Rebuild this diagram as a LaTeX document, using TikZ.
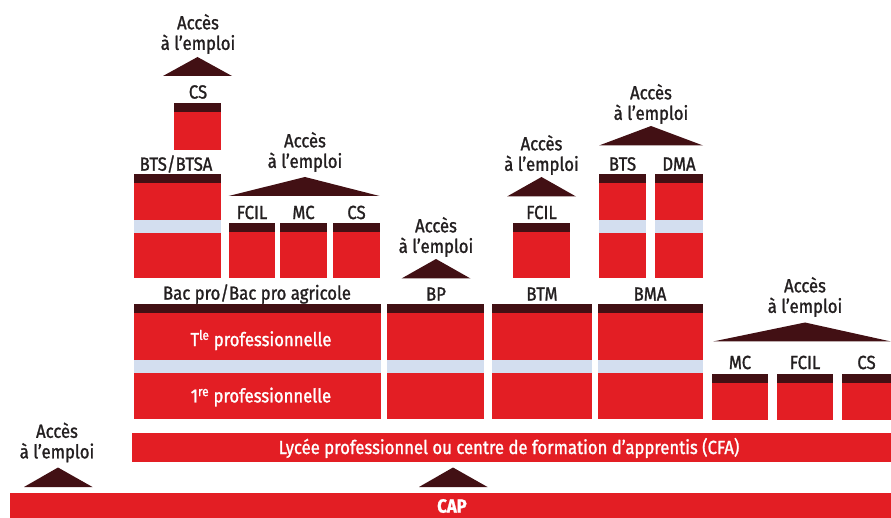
\documentclass[tikz,border=0pt]{standalone}
\usepackage{fontspec}
\setmainfont{Fira Sans}[FakeStretch=0.88, FakeBold=1.3]
\definecolor{rd}{HTML}{E31E24}
\definecolor{dk}{HTML}{421014}
\definecolor{lb}{HTML}{D3DEEF}
\definecolor{txt}{HTML}{231F20}
\tikzset{
  lbl/.style={text=txt, font=\fontsize{19}{20.5}\selectfont, inner sep=0pt, align=center},
  wlbl/.style={text=white, font=\fontsize{19}{20.5}\selectfont, inner sep=0pt, align=center},
  band/.style={fill=dk},
  body/.style={fill=rd},
  gap/.style={fill=lb},
  tri/.style={fill=dk}
}
% single box: x1 x2 ytop ybottom
\newcommand\myonebox[4]{%
  \fill[band] (#1,#3) rectangle (#2,#3+9.5);
  \fill[body] (#1,#3+9.5) rectangle (#2,#4);}
% double box: x1 x2 ytop yblue1 yblue2 ybottom
\newcommand\mytwobox[6]{%
  \fill[band] (#1,#3) rectangle (#2,#3+9.5);
  \fill[body] (#1,#3+9.5) rectangle (#2,#4);
  \fill[gap] (#1,#4) rectangle (#2,#5);
  \fill[body] (#1,#5) rectangle (#2,#6);}
% triangle: left right apexx apexy base
\newcommand\mytri[5]{\fill[tri] (#1,#5) -- (#3,#4) -- (#2,#5) -- cycle;}
\begin{document}
\begin{tikzpicture}[x=1pt,y=-1pt]
\useasboundingbox (0,0) rectangle (891,518);
% boxes
\myonebox{174}{221}{103}{150}
\mytwobox{134}{221}{174}{220}{233}{278.5}
\myonebox{228.5}{275}{223}{278.5}
\myonebox{280}{327}{223}{278.5}
\myonebox{333}{380}{223}{278.5}
\mytwobox{134}{381}{304}{359.5}{373}{419}
\mytwobox{387}{484}{304}{359.5}{373}{419}
\mytwobox{492}{592}{304}{359.5}{373}{419}
\mytwobox{598}{703}{304}{359.5}{373}{419}
\myonebox{513}{570}{223}{278.5}
\mytwobox{599}{646}{174}{220}{233}{278.5}
\mytwobox{655}{703}{174}{220}{233}{278.5}
\myonebox{712}{768}{373.5}{420}
\myonebox{777}{833}{373.5}{420}
\myonebox{842}{891}{373.5}{420}
\fill[body] (132,433) rectangle (891,462);
\fill[body] (10,492.5) rectangle (891,518);
% triangles
\mytri{163}{232}{197.5}{57}{76}
\mytri{228.5}{379.5}{305}{177}{196}
\mytri{401.5}{470.5}{436}{259}{278.5}
\mytri{507}{576}{541.5}{177}{196.5}
\mytri{599}{703}{651}{126}{145.5}
\mytri{713}{891}{805}{322.5}{341.5}
\mytri{24}{92.5}{58}{467.5}{487}
\mytri{419}{487.5}{453}{467.5}{487}
% labels
\node[lbl] (a1) at (198,34) {Accès\\à l’emploi};
\node[lbl] (cs1) at (198,92) {CS};
\node[lbl] (bts1) at (176,164) {BTS/BTSA};
\node[lbl] (a2) at (305,152) {Accès\\à l’emploi};
\node[lbl] (fcil1) at (252,212.5) {FCIL};
\node[lbl] (mc1) at (303.5,212.5) {MC};
\node[lbl] (cs2) at (356.5,212.5) {CS};
\node[lbl] (bac) at (257,294) {Bac pro/Bac pro agricole};
\node[lbl] (a3) at (436,237) {Accès\\à l’emploi};
\node[lbl] (bp) at (436,294) {BP};
\node[lbl] (a4) at (541.5,155) {Accès\\à l’emploi};
\node[lbl] (fcil2) at (541.5,212.5) {FCIL};
\node[lbl] (btm) at (542,294) {BTM};
\node[lbl] (a5) at (651,104) {Accès\\à l’emploi};
\node[lbl] (bts2) at (622.5,164) {BTS};
\node[lbl] (dma) at (679,164) {DMA};
\node[lbl] (bma) at (650,294) {BMA};
\node[wlbl] (term) at (261,340) {T\textsuperscript{le} professionnelle};
\node[wlbl] (prem) at (261,397) {1\textsuperscript{re} professionnelle};
\node[lbl] (a6) at (805,297) {Accès\\à l’emploi};
\node[lbl] (mc2) at (740,362.5) {MC};
\node[lbl] (fcil3) at (805,362.5) {FCIL};
\node[lbl] (cs3) at (866.5,362.5) {CS};
\node[wlbl] (lyc) at (509,448) {Lycée professionnel ou centre de formation d’apprentis (CFA)};
\node[lbl] (a7) at (57,442.5) {Accès\\à l’emploi};
\node[wlbl, font=\fontsize{19}{20.5}\selectfont\bfseries] (cap) at (452,506) {CAP};
\end{tikzpicture}
\end{document}
